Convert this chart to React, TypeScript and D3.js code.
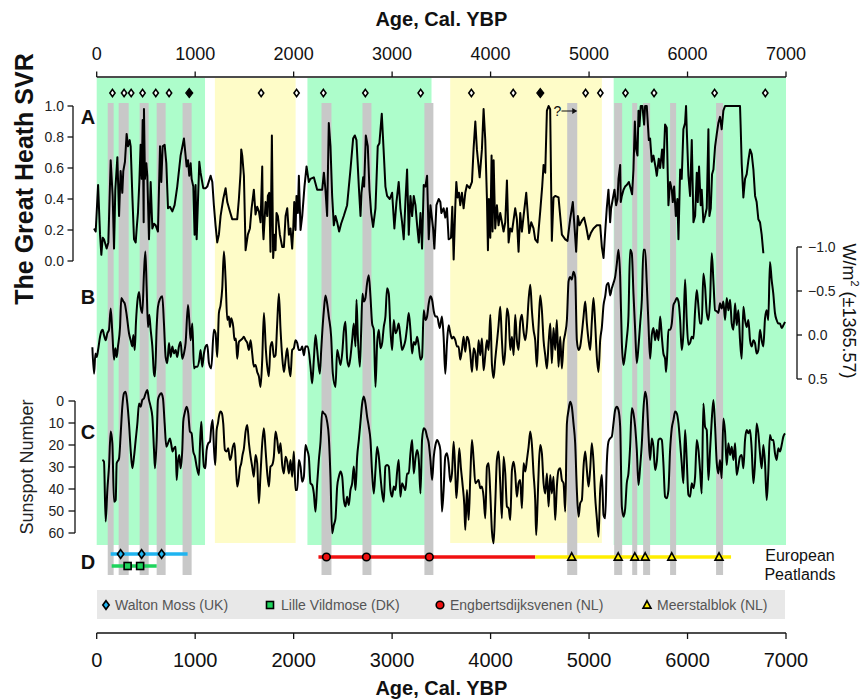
import React from 'react';
import * as d3 from 'd3';

// Climate periods (cal. yr BP)
const greenPeriods: [number, number][] = [[0, 1100], [2140, 3400], [5250, 7000]];
const yellowPeriods: [number, number][] = [[1200, 2020], [3590, 5130]];

// Grey event bars
const grayEvents: [number, number][] = [
  [112, 172], [223, 325], [436, 528], [609, 700], [872, 964],
  [2283, 2384], [2699, 2790], [3328, 3419], [4778, 4880],
  [5255, 5336], [5438, 5489], [5549, 5620], [5823, 5884], [6290, 6361],
];

// Dated levels above record A
const openDates = [160, 278, 350, 466, 600, 735, 1670, 2030, 2302, 2728, 3290, 3805, 4230, 4965, 5115, 5370, 5660, 6275, 6790];
const solidDates = [940, 4505];

// European peatlands (D)
const waltonRange = [142, 923];
const waltonDates = [243, 456, 659];
const lilleRange = [152, 609];
const lilleDates = [314, 441];
const engbertsRange = [2252, 4454];
const engbertsDates = [2333, 2739, 3378];
const meerstalRange = [4454, 6442];
const meerstalDates = [4824, 5296, 5465, 5570, 5840, 6320];

// A: The Great Heath SVR
const svrSeries: [number, number][] = [
  [-27, 0.21], [-10, 0.19], [14, 0.49], [34, 0.17], [47, 0.04], [61, 0.15], [74, 0.14], [101, 0.08], [118, 0.12],
  [142, 0.65], [162, 0.42], [176, 0.08], [189, 0.46], [210, 0.67], [227, 0.29], [243, 0.58], [260, 0.44], [270, 0.58],
  [287, 0.64], [304, 0.82], [318, 0.74], [335, 0.78], [345, 0.74], [362, 0.42], [379, 0.14], [396, 0.12], [406, 0.21],
  [419, 0.31], [433, 0.51], [446, 0.75], [457, 0.53], [467, 0.91], [477, 0.25], [480, 0.98], [490, 0.53], [504, 0.63],
  [514, 0.55], [531, 0.14], [548, 0.51], [565, 0.21], [582, 0.24], [599, 0.23], [622, 0.19], [643, 0.74], [656, 0.51],
  [670, 0.74], [690, 0.75], [707, 0.63], [724, 0.34], [744, 0.35], [768, 0.32], [791, 0.36], [818, 0.48], [852, 0.68],
  [886, 0.79], [913, 0.61], [927, 0.65], [940, 0.55], [954, 0.63], [964, 0.53], [981, 0.48], [994, 0.17], [1004, 0.49],
  [1015, 0.14], [1028, 0.38], [1042, 0.64], [1055, 0.57], [1082, 0.47], [1106, 0.47], [1123, 0.48], [1157, 0.55],
  [1174, 0.51], [1190, 0.36], [1207, 0.23], [1224, 0.12], [1241, 0.17], [1258, 0.29], [1285, 0.40], [1309, 0.47],
  [1326, 0.38], [1353, 0.32], [1376, 0.27], [1400, 0.27], [1427, 0.27], [1444, 0.40], [1461, 0.57], [1468, 0.72],
  [1478, 0.68], [1495, 0.55], [1512, 0.07], [1535, 0.17], [1556, 0.21], [1573, 0.34], [1596, 0.46], [1613, 0.30],
  [1630, 0.35], [1647, 0.32], [1664, 0.25], [1681, 0.61], [1688, 0.21], [1694, 0.14], [1715, 0.38], [1732, 0.29],
  [1738, 0.42], [1752, 0.44], [1765, 0.06], [1779, 0.81], [1792, 0.02], [1806, 0.17], [1816, 0.07], [1826, 0.31],
  [1840, 0.29], [1860, 0.17], [1884, 0.09], [1901, 0.09], [1918, 0.29], [1935, 0.34], [1952, 0.17], [1968, 0.21],
  [1985, 0.08], [1996, 0.21], [2006, 0.38], [2019, 0.20], [2029, 0.42], [2043, 0.31], [2053, 0.55], [2070, 0.20],
  [2087, 0.29], [2110, 0.48], [2131, 0.61], [2154, 0.51], [2171, 0.53], [2205, 0.54], [2239, 0.46], [2266, 0.46],
  [2290, 0.46], [2307, 0.57], [2323, 0.46], [2340, 0.29], [2357, 0.89], [2374, 0.74], [2391, 0.42], [2408, 0.23],
  [2425, 0.29], [2442, 0.25], [2462, 0.19], [2482, 0.24], [2509, 0.29], [2543, 0.36], [2577, 0.59], [2604, 0.79],
  [2621, 0.81], [2638, 0.78], [2662, 0.48], [2679, 0.29], [2689, 0.44], [2706, 0.54], [2716, 0.48], [2733, 0.81],
  [2753, 0.74], [2770, 0.46], [2787, 0.31], [2807, 0.22], [2831, 0.34], [2854, 0.74], [2871, 0.76], [2895, 0.95],
  [2915, 0.70], [2932, 0.48], [2949, 0.42], [2976, 0.40], [3000, 0.44], [3023, 0.21], [3044, 0.38], [3067, 0.51],
  [3084, 0.34], [3101, 0.25], [3118, 0.14], [3135, 0.38], [3152, 0.59], [3169, 0.17], [3186, 0.42], [3203, 0.29],
  [3220, 0.42], [3237, 0.36], [3254, 0.23], [3271, 0.12], [3288, 0.31], [3304, 0.08], [3321, 0.49], [3338, 0.48],
  [3355, 0.55], [3372, 0.14], [3389, 0.36], [3416, 0.21], [3429, 0.08], [3450, 0.36], [3473, 0.40], [3490, 0.38],
  [3500, 0.31], [3523, 0.34], [3540, 0.28], [3557, 0.34], [3574, 0.14], [3598, 0.15], [3611, 0.35], [3625, 0.01],
  [3642, 0.36], [3652, 0.51], [3665, 0.41], [3679, 0.44], [3692, 0.36], [3709, 0.44], [3726, 0.34], [3743, 0.44],
  [3760, 0.49], [3787, 0.47], [3811, 0.51], [3828, 0.73], [3845, 0.90], [3861, 0.72], [3889, 0.54], [3912, 0.72],
  [3929, 0.98], [3946, 0.78], [3963, 0.40], [3973, 0.07], [3983, 0.40], [3997, 0.15], [4010, 0.68], [4020, 0.19],
  [4031, 0.65], [4047, 0.21], [4064, 0.36], [4081, 0.23], [4098, 0.31], [4115, 0.25], [4132, 0.19], [4149, 0.25],
  [4166, 0.52], [4183, 0.12], [4200, 0.21], [4217, 0.19], [4250, 0.34], [4267, 0.27], [4284, 0.06], [4301, 0.31],
  [4318, 0.19], [4335, 0.29], [4362, 0.44], [4379, 0.29], [4392, 0.18], [4413, 0.25], [4436, 0.21], [4453, 0.14],
  [4477, 0.12], [4504, 0.32], [4524, 0.48], [4538, 0.62], [4555, 0.57], [4572, 0.97], [4589, 1.0], [4605, 0.98],
  [4622, 0.13], [4639, 0.41], [4656, 0.42], [4690, 0.41], [4707, 0.29], [4724, 0.17], [4758, 0.14], [4781, 0.13],
  [4808, 0.27], [4835, 0.38], [4849, 0.25], [4869, 0.06], [4886, 0.29], [4903, 0.23], [4927, 0.26], [4950, 0.28],
  [4971, 0.22], [4994, 0.14], [5018, 0.18], [5045, 0.21], [5079, 0.23], [5113, 0.23], [5130, 0.09], [5147, 0.02],
  [5164, 0.19], [5180, 0.34], [5197, 0.46], [5214, 0.25], [5224, 0.34], [5241, 0.40], [5258, 0.46], [5275, 0.36],
  [5289, 0.40], [5299, 0.53], [5316, 0.62], [5322, 0.38], [5333, 0.42], [5350, 0.46], [5366, 0.48], [5383, 0.49],
  [5404, 0.51], [5417, 0.48], [5437, 0.43], [5451, 0.59], [5465, 0.90], [5478, 0.72], [5492, 0.68], [5502, 0.97],
  [5512, 0.87], [5525, 1.0], [5542, 1.0], [5559, 0.88], [5569, 1.0], [5586, 1.0], [5607, 0.78], [5620, 0.79],
  [5637, 0.64], [5654, 0.68], [5674, 0.61], [5688, 0.55], [5708, 0.66], [5722, 0.60], [5742, 0.72], [5755, 0.60],
  [5772, 0.88], [5789, 0.86], [5806, 0.36], [5823, 0.51], [5840, 0.46], [5850, 0.38], [5864, 0.48], [5881, 0.29],
  [5897, 0.40], [5908, 0.14], [5925, 0.59], [5941, 0.53], [5958, 0.85], [5975, 0.89], [5985, 1.0], [5992, 0.85],
  [6009, 0.55], [6026, 0.42], [6043, 0.78], [6060, 0.25], [6077, 0.29], [6094, 0.57], [6104, 0.38], [6117, 0.61],
  [6134, 0.36], [6144, 0.46], [6161, 0.25], [6178, 0.29], [6195, 0.34], [6212, 0.85], [6222, 0.29], [6236, 0.34],
  [6249, 0.56], [6263, 0.59], [6280, 0.74], [6297, 0.82], [6313, 0.89], [6330, 0.93], [6347, 0.85], [6364, 0.97],
  [6381, 1.0], [6533, 1.0], [6540, 0.86], [6550, 0.63], [6567, 0.41], [6584, 0.53], [6601, 0.56], [6618, 0.65],
  [6635, 0.72], [6652, 0.69], [6669, 0.59], [6686, 0.42], [6702, 0.38], [6719, 0.27], [6736, 0.25], [6753, 0.17],
  [6770, 0.05],
];

// B: total solar irradiance anomaly, W/m2 (±1365.57)
const tsiSeries: [number, number][] = [
  [-44, 0.14], [-27, 0.44], [-13, 0.21], [0, 0.25], [14, 0.17], [34, 0.02], [47, -0.04], [61, -0.06], [74, 0.0],
  [91, 0.06], [108, -0.02], [125, -0.06], [142, -0.30], [159, -0.02], [176, 0.28], [189, 0.15], [203, 0.25],
  [216, 0.13], [237, -0.09], [250, -0.42], [271, -0.38], [284, -0.36], [304, -0.23], [328, -0.02], [345, 0.06],
  [362, 0.13], [372, 0.0], [386, 0.17], [399, -0.15], [413, -0.38], [430, -0.49], [446, -0.32], [463, -0.25],
  [480, -0.70], [494, -0.95], [507, -0.55], [521, -0.09], [534, -0.23], [548, -0.06], [565, 0.13], [582, 0.44],
  [592, 0.47], [609, -0.09], [622, -0.32], [643, -0.41], [666, -0.44], [683, -0.13], [700, 0.25], [717, 0.32],
  [734, 0.09], [751, 0.25], [768, 0.13], [785, 0.21], [802, 0.17], [818, 0.25], [835, 0.13], [852, 0.08], [869, 0.27],
  [886, 0.21], [903, 0.09], [927, -0.34], [940, -0.17], [954, 0.06], [971, -0.13], [988, 0.38], [1004, 0.36],
  [1021, 0.36], [1042, 0.28], [1055, 0.17], [1072, 0.36], [1089, 0.21], [1106, 0.13], [1123, 0.11], [1140, 0.32],
  [1163, 0.38], [1190, -0.06], [1207, -0.02], [1224, 0.25], [1241, -0.25], [1258, -0.34], [1275, -0.53], [1292, -0.95],
  [1309, -0.63], [1326, -0.17], [1343, -0.21], [1353, -0.09], [1366, -0.19], [1387, -0.09], [1400, 0.06], [1414, 0.04],
  [1427, 0.27], [1444, 0.08], [1461, 0.06], [1481, 0.04], [1495, 0.02], [1512, 0.06], [1529, 0.09], [1546, 0.17],
  [1563, 0.06], [1579, 0.21], [1596, 0.36], [1613, 0.34], [1630, 0.42], [1647, 0.47], [1664, 0.59], [1681, 0.28],
  [1698, -0.25], [1718, 0.17], [1732, 0.36], [1748, 0.47], [1765, 0.13], [1782, 0.08], [1799, 0.25], [1816, 0.23],
  [1833, -0.13], [1850, -0.47], [1867, -0.06], [1884, 0.25], [1901, 0.42], [1918, 0.28], [1935, 0.15], [1952, 0.36],
  [1968, 0.47], [1985, 0.17], [2002, 0.15], [2019, 0.06], [2036, 0.09], [2053, 0.17], [2070, 0.17], [2087, 0.13],
  [2104, 0.23], [2120, 0.13], [2144, 0.13], [2171, 0.36], [2188, 0.55], [2205, 0.28], [2222, 0.0], [2239, 0.17],
  [2266, 0.44], [2280, 0.17], [2290, -0.02], [2307, -0.28], [2323, -0.45], [2340, -0.36], [2357, -0.21], [2381, 0.02],
  [2398, 0.44], [2425, 0.59], [2442, 0.17], [2459, 0.25], [2476, 0.34], [2496, 0.17], [2509, -0.04], [2526, -0.15],
  [2543, 0.27], [2560, 0.36], [2577, 0.25], [2594, 0.06], [2611, -0.13], [2628, 0.13], [2638, -0.40], [2652, 0.02],
  [2672, 0.36], [2685, -0.02], [2699, -0.47], [2712, -0.38], [2729, -0.42], [2746, -0.59], [2763, -0.68], [2780, -0.44],
  [2797, -0.13], [2814, -0.06], [2831, 0.59], [2848, 0.09], [2865, -0.06], [2882, 0.15], [2899, 0.09], [2915, -0.09],
  [2932, -0.21], [2949, -0.53], [2966, -0.47], [2983, -0.06], [3000, 0.17], [3017, -0.17], [3034, -0.02], [3051, -0.06],
  [3067, -0.13], [3084, 0.02], [3101, 0.17], [3118, 0.13], [3135, 0.06], [3152, -0.09], [3169, -0.25], [3186, -0.06],
  [3203, 0.21], [3220, 0.08], [3237, 0.11], [3254, 0.02], [3271, 0.13], [3288, 0.28], [3304, 0.25], [3321, -0.28],
  [3338, -0.17], [3355, -0.21], [3372, -0.36], [3389, -0.44], [3406, -0.40], [3423, -0.27], [3440, -0.21], [3457, -0.21],
  [3484, -0.08], [3506, -0.21], [3523, 0.02], [3540, 0.44], [3557, 0.09], [3574, -0.11], [3591, -0.02], [3608, 0.04],
  [3625, 0.02], [3642, 0.06], [3659, 0.13], [3675, 0.13], [3692, 0.28], [3709, 0.17], [3726, 0.02], [3743, 0.19],
  [3760, 0.02], [3777, 0.06], [3794, 0.21], [3811, 0.42], [3828, 0.15], [3845, 0.21], [3861, 0.40], [3878, 0.06],
  [3895, 0.23], [3912, 0.04], [3929, 0.40], [3946, 0.23], [3963, 0.06], [3980, 0.17], [3997, -0.23], [4014, 0.34],
  [4031, 0.49], [4047, 0.28], [4064, 0.09], [4081, -0.11], [4098, -0.32], [4115, 0.06], [4132, 0.34], [4149, 0.17],
  [4166, -0.30], [4183, -0.21], [4200, 0.17], [4217, 0.02], [4234, 0.23], [4250, -0.23], [4267, 0.06], [4284, 0.17],
  [4301, -0.15], [4318, -0.23], [4335, -0.04], [4352, 0.06], [4369, -0.09], [4386, -0.40], [4403, -0.57], [4420, -0.27],
  [4436, -0.06], [4453, 0.06], [4470, 0.36], [4487, -0.09], [4504, -0.45], [4521, -0.28], [4538, 0.06], [4555, 0.23],
  [4572, 0.38], [4589, 0.09], [4606, -0.13], [4622, 0.32], [4639, -0.08], [4656, 0.17], [4673, -0.17], [4690, 0.36],
  [4707, 0.02], [4724, 0.38], [4741, 0.09], [4758, -0.02], [4775, -0.17], [4792, -0.61], [4808, -0.66], [4825, -0.63],
  [4842, -0.72], [4859, -0.66], [4876, 0.06], [4893, 0.17], [4910, 0.13], [4927, -0.02], [4944, -0.21], [4961, -0.38],
  [4978, -0.13], [4995, 0.06], [5011, 0.17], [5028, -0.15], [5045, -0.42], [5062, -0.13], [5079, 0.25], [5096, 0.42],
  [5113, 0.06], [5130, -0.09], [5147, -0.34], [5164, -0.44], [5180, -0.57], [5197, -0.59], [5214, -0.45], [5231, -0.53],
  [5248, -0.59], [5265, -0.66], [5282, -0.81], [5299, -0.97], [5316, -0.66], [5333, 0.09], [5350, 0.34], [5367, 0.21],
  [5383, 0.04], [5400, -0.21], [5417, -0.97], [5434, -0.93], [5451, -0.47], [5468, -0.06], [5485, 0.32], [5502, 0.13],
  [5519, -0.13], [5536, -0.40], [5552, -0.97], [5569, -0.97], [5586, -0.59], [5603, -0.13], [5620, 0.27], [5637, 0.0],
  [5654, -0.08], [5671, 0.06], [5688, -0.06], [5705, 0.06], [5722, -0.21], [5739, 0.02], [5755, 0.21], [5772, 0.27],
  [5782, 0.42], [5796, 0.17], [5806, -0.06], [5823, -0.06], [5840, -0.13], [5857, -0.34], [5874, -0.38], [5891, -0.42],
  [5908, -0.38], [5925, -0.17], [5941, 0.17], [5958, -0.02], [5975, -0.63], [5992, -0.17], [6009, 0.11], [6026, 0.09],
  [6043, 0.02], [6060, 0.04], [6077, -0.28], [6094, -0.51], [6111, -0.32], [6127, -0.13], [6144, -0.13], [6161, -0.70],
  [6178, -0.55], [6195, -0.25], [6212, -0.17], [6229, -0.40], [6246, -0.93], [6263, -0.61], [6280, -0.28], [6297, -0.27],
  [6313, -0.25], [6330, -0.36], [6347, -0.30], [6364, -0.38], [6381, -0.17], [6398, -0.42], [6415, -0.28], [6432, -0.40],
  [6449, -0.13], [6466, -0.06], [6483, -0.36], [6499, -0.11], [6516, -0.28], [6533, 0.06], [6550, 0.27], [6567, -0.32],
  [6584, -0.17], [6601, -0.09], [6618, -0.17], [6635, 0.06], [6652, 0.13], [6669, 0.06], [6685, 0.09], [6702, 0.21],
  [6719, 0.17], [6736, -0.06], [6753, 0.06], [6770, 0.13], [6787, -0.19], [6804, -0.28], [6820, -0.17], [6837, -0.83],
  [6854, -0.63], [6871, -0.47], [6888, -0.25], [6905, -0.17], [6922, -0.13], [6939, -0.13], [6956, -0.08], [6973, -0.11],
  [6990, -0.15],
];

// C: reconstructed sunspot number
const sunspotSeries: [number, number][] = [
  [58, 26.8], [74, 27.6], [91, 54.8], [108, 40.5], [125, 29.8], [142, 13.9], [159, 19.2], [176, 45.8], [193, 45.0],
  [203, 28.3], [227, 26.1], [244, 14.7], [260, 2.6], [277, -3.5], [294, -4.2], [311, 1.1], [328, 10.2], [345, 22.3],
  [362, 30.6], [379, 25.3], [396, 17.7], [413, 10.2], [430, 1.1], [446, 2.6], [463, -0.5], [480, -1.2], [497, -3.5],
  [514, -5.0], [531, -0.5], [548, 2.6], [565, 7.1], [582, 22.3], [592, 30.6], [609, 17.7], [622, -0.5], [639, -2.7],
  [656, -3.5], [673, -1.2], [690, 10.2], [707, 20.8], [724, 19.2], [744, 17.0], [758, 20.0], [771, 23.0], [785, 21.5],
  [802, 20.8], [812, 35.9], [825, 27.6], [839, 24.5], [852, 30.6], [869, 22.3], [879, 9.4], [893, 5.6], [913, 2.6],
  [930, 5.6], [947, 13.9], [964, 14.7], [981, 23.0], [998, 25.3], [1015, 29.8], [1038, 33.6], [1048, 20.8], [1062, 9.4],
  [1072, 17.7], [1089, 29.8], [1103, 30.6], [1116, 22.3], [1133, 19.2], [1150, 18.5], [1164, 11.7], [1177, 8.6],
  [1191, 21.5], [1204, 29.1], [1218, 13.2], [1231, 10.2], [1241, 7.1], [1258, 4.8], [1272, 5.6], [1285, 10.2],
  [1302, 22.3], [1319, 23.0], [1336, 21.5], [1353, 26.8], [1366, 25.3], [1383, 20.8], [1400, 19.2], [1414, 29.8],
  [1427, 38.9], [1441, 35.9], [1454, 30.6], [1468, 28.3], [1481, 24.5], [1495, 21.5], [1512, 13.9], [1529, 10.9],
  [1546, 19.2], [1563, 25.3], [1579, 29.8], [1596, 34.4], [1613, 24.5], [1630, 28.3], [1647, 46.5], [1664, 32.9],
  [1681, 19.2], [1698, 12.4], [1715, 22.3], [1732, 32.9], [1749, 38.9], [1765, 29.8], [1782, 29.1], [1799, 25.3],
  [1816, 13.9], [1833, 17.7], [1850, 23.8], [1867, 19.2], [1884, 29.1], [1901, 32.9], [1918, 25.3], [1935, 27.6],
  [1952, 32.9], [1968, 26.8], [1985, 34.4], [2002, 23.0], [2019, 40.5], [2036, 40.5], [2053, 26.8], [2070, 29.8],
  [2087, 36.7], [2104, 34.4], [2120, 20.0], [2137, 22.3], [2154, 25.3], [2171, 37.4], [2188, 38.2], [2205, 42.0],
  [2222, 50.3], [2239, 37.4], [2256, 26.8], [2273, 18.5], [2290, 4.8], [2307, 5.6], [2324, 6.4], [2340, 9.4],
  [2357, 16.2], [2374, 34.4], [2391, 60.1], [2408, 56.4], [2425, 53.3], [2442, 38.9], [2459, 34.4], [2476, 32.1],
  [2493, 34.4], [2510, 45.0], [2526, 48.0], [2543, 43.5], [2560, 47.3], [2577, 40.5], [2594, 37.4], [2611, 29.8],
  [2628, 40.5], [2645, 25.3], [2662, 17.7], [2679, 9.4], [2696, 1.1], [2712, -2.0], [2729, 1.1], [2746, 7.1],
  [2763, 11.7], [2780, 17.7], [2797, 32.9], [2814, 42.0], [2831, 31.4], [2848, 20.8], [2865, 25.3], [2882, 34.4],
  [2899, 42.0], [2915, 45.8], [2932, 29.8], [2949, 29.1], [2966, 29.8], [2983, 40.5], [3000, 43.5], [3017, 38.9],
  [3034, 40.5], [3051, 32.1], [3067, 26.8], [3084, 43.5], [3101, 37.4], [3118, 38.9], [3135, 40.5], [3152, 32.9],
  [3169, 32.9], [3186, 23.8], [3203, 17.7], [3220, 32.9], [3237, 26.1], [3254, 22.3], [3271, 26.8], [3288, 42.0],
  [3304, 17.7], [3321, 12.4], [3338, 13.2], [3355, 16.2], [3372, 19.2], [3389, 26.8], [3406, 35.9], [3423, 25.3],
  [3440, 20.0], [3457, 17.7], [3474, 19.2], [3490, 22.3], [3506, 50.3], [3523, 40.5], [3540, 25.3], [3557, 23.8],
  [3574, 28.3], [3591, 36.7], [3608, 32.9], [3625, 18.5], [3642, 32.9], [3652, 44.2], [3665, 36.7], [3682, 21.5],
  [3699, 30.6], [3716, 38.2], [3733, 47.3], [3743, 58.6], [3760, 40.5], [3777, 54.1], [3794, 34.4], [3811, 17.7],
  [3828, 26.8], [3845, 37.4], [3861, 36.7], [3878, 35.9], [3895, 39.7], [3912, 38.9], [3929, 43.5], [3946, 53.3],
  [3963, 29.8], [3980, 28.3], [3997, 42.0], [4014, 59.4], [4031, 64.7], [4047, 47.3], [4064, 26.8], [4081, 23.0],
  [4098, 37.4], [4115, 53.3], [4132, 25.3], [4149, 32.9], [4166, 48.0], [4183, 48.8], [4200, 54.1], [4217, 31.4],
  [4234, 27.6], [4250, 32.9], [4267, 43.5], [4284, 37.4], [4301, 35.9], [4318, 48.8], [4335, 28.3], [4352, 32.1],
  [4369, 26.8], [4386, 20.8], [4403, 13.9], [4420, 20.0], [4436, 32.9], [4453, 45.0], [4463, 60.9], [4477, 46.5],
  [4491, 28.3], [4504, 20.0], [4521, 23.8], [4538, 37.4], [4555, 42.0], [4572, 32.9], [4589, 48.0], [4606, 33.6],
  [4622, 42.0], [4639, 34.4], [4656, 54.1], [4673, 38.9], [4690, 31.4], [4707, 30.6], [4724, 35.9], [4741, 37.4],
  [4758, 50.3], [4775, 10.2], [4792, 4.1], [4808, 0.3], [4825, 2.6], [4842, 10.2], [4859, 19.2], [4876, 40.5],
  [4893, 52.6], [4910, 46.5], [4927, 45.0], [4944, 29.8], [4961, 23.0], [4978, 31.4], [4995, 38.9], [5011, 31.4],
  [5028, 19.2], [5045, 27.6], [5062, 43.5], [5079, 53.3], [5096, 61.7], [5113, 40.5], [5130, 33.6], [5147, 51.8],
  [5164, 53.3], [5180, 28.3], [5197, 18.5], [5214, 17.0], [5231, 16.2], [5248, 10.2], [5265, 4.1], [5282, 2.6],
  [5299, 4.1], [5316, 11.7], [5333, 48.0], [5350, 52.6], [5367, 48.8], [5383, 37.4], [5400, 32.9], [5417, 20.8],
  [5434, 3.3], [5451, 5.6], [5468, 11.7], [5485, 22.3], [5502, 38.2], [5519, 29.8], [5536, 19.2], [5552, 4.1],
  [5569, -4.2], [5586, -0.5], [5603, 14.7], [5620, 26.8], [5637, 17.0], [5654, 20.8], [5671, 31.4], [5688, 27.6],
  [5705, 17.7], [5722, 17.0], [5739, 17.7], [5755, 28.3], [5772, 43.5], [5789, 44.2], [5806, 40.5], [5823, 22.3],
  [5840, 12.4], [5857, 8.6], [5874, 4.8], [5891, 5.6], [5908, 10.2], [5925, 19.2], [5941, 28.3], [5958, 37.4],
  [5975, 13.2], [5992, 26.8], [6009, 42.7], [6026, 43.5], [6043, 37.4], [6060, 39.7], [6077, 34.4], [6094, 17.7],
  [6111, 22.3], [6127, 31.4], [6144, 42.0], [6161, 1.1], [6178, 11.7], [6195, 13.2], [6212, 35.9], [6229, 22.3],
  [6246, 8.6], [6263, -0.5], [6280, 11.7], [6297, 28.3], [6313, 32.9], [6330, 26.8], [6347, 35.1], [6364, 7.9],
  [6381, 13.9], [6398, 29.1], [6415, 19.2], [6432, 24.5], [6449, 20.8], [6466, 26.8], [6483, 19.2], [6499, 33.6],
  [6516, 29.8], [6533, 25.3], [6550, 24.5], [6567, 30.6], [6584, 17.7], [6601, 13.2], [6618, 14.7], [6635, 13.2],
  [6652, 22.3], [6669, 37.4], [6685, 28.3], [6702, 10.2], [6719, 14.7], [6736, 23.8], [6753, 30.6], [6770, 20.0],
  [6787, 28.3], [6804, 45.0], [6820, 32.9], [6837, 15.5], [6854, 17.7], [6871, 17.7], [6888, 23.8], [6905, 26.8],
  [6922, 21.5], [6939, 23.0], [6956, 20.0], [6973, 16.2], [6990, 14.7],
];

const svrTicks = [0, 0.2, 0.4, 0.6, 0.8, 1.0];
const tsiTicks = [-1.0, -0.5, 0.0, 0.5];
const sunspotTicks = [0, 10, 20, 30, 40, 50, 60];

const FONT = '"Liberation Sans", Arial, Helvetica, sans-serif';
const W = 865;
const H = 700;

const diamond = (hw: number, hh: number) => `M0,${-hh}L${hw},0L0,${hh}L${-hw},0Z`;
const triangle = (s: number) => `M0,${-s}L${s * 0.95},${s * 0.75}L${-s * 0.95},${s * 0.75}Z`;

export default function App() {
  const x = d3.scaleLinear().domain([0, 7000]).range([96.7, 786]);
  const yA = d3.scaleLinear().domain([0, 1]).range([261, 106]);
  const yB = d3.scaleLinear().domain([-1, 0.5]).range([247, 379]);
  const yC = d3.scaleLinear().domain([0, 60]).range([401, 533]);

  const lineA = d3.line<[number, number]>().x(d => x(d[0])).y(d => yA(d[1]));
  const lineB = d3.line<[number, number]>().x(d => x(d[0])).y(d => yB(d[1])).curve(d3.curveMonotoneX);
  const lineC = d3.line<[number, number]>().x(d => x(d[0])).y(d => yC(d[1])).curve(d3.curveMonotoneX);

  const ageTicks = x.ticks(7);
  const bandTop = 78;
  const bandBottom = 544;

  const rowY = { walton: 554, lille: 566, engberts: 557, meerstal: 557 };

  return (
    <svg width={W} height={H} style={{ position: 'absolute', left: 0, top: 0, background: '#fff' }} fontFamily={FONT}>
      {/* climate periods */}
      {greenPeriods.map((p, i) => (
        <rect key={'g' + i} x={x(p[0])} y={bandTop} width={x(p[1]) - x(p[0])} height={bandBottom - bandTop + 1} fill="#adfdcb" />
      ))}
      {yellowPeriods.map((p, i) => (
        <rect key={'y' + i} x={x(p[0])} y={bandTop} width={x(p[1]) - x(p[0])} height={bandBottom - bandTop - 1} fill="#fefcc8" />
      ))}
      {/* grey events */}
      {grayEvents.map((p, i) => (
        <rect key={'e' + i} x={x(p[0])} y={103} width={x(p[1]) - x(p[0])} height={472} fill="#c8c8c8" />
      ))}

      {/* top axis */}
      <text x={(x(0) + x(7000)) / 2} y={19} textAnchor="middle" dominantBaseline="central" fontSize={20} fontWeight="bold" fill="#111">Age, Cal. YBP</text>
      <line x1={x(0)} x2={x(7000)} y1={77} y2={77} stroke="#111" strokeWidth={1.5} />
      {ageTicks.map(t => (
        <g key={'tt' + t}>
          <line x1={x(t)} x2={x(t)} y1={71.5} y2={77} stroke="#111" strokeWidth={1.3} />
          <text x={x(t)} y={54} textAnchor="middle" dominantBaseline="central" fontSize={18} fill="#111">{t}</text>
        </g>
      ))}

      {/* dated levels */}
      {openDates.map((d, i) => (
        <path key={'od' + i} d={diamond(2.6, 3.6)} transform={`translate(${x(d)},93)`} fill="#fff" stroke="#000" strokeWidth={1.6} />
      ))}
      {solidDates.map((d, i) => (
        <path key={'sd' + i} d={diamond(3.5, 4.5)} transform={`translate(${x(d)},93)`} fill="#000" stroke="#000" strokeWidth={1.2} />
      ))}

      {/* A axis */}
      <text transform="translate(24,179) rotate(-90)" textAnchor="middle" dominantBaseline="central" fontSize={25} fontWeight="bold" fill="#111">The Great Heath SVR</text>
      <line x1={73} x2={73} y1={yA(1)} y2={yA(0)} stroke="#111" strokeWidth={1.3} />
      {svrTicks.map(t => (
        <g key={'ta' + t}>
          <line x1={67.5} x2={73} y1={yA(t)} y2={yA(t)} stroke="#111" strokeWidth={1.3} />
          <text x={64} y={yA(t)} textAnchor="end" dominantBaseline="central" fontSize={14} fill="#222">{d3.format('.1f')(t)}</text>
        </g>
      ))}

      {/* B axis */}
      <line x1={797} x2={797} y1={yB(-1)} y2={yB(0.5)} stroke="#111" strokeWidth={1.3} />
      {tsiTicks.map(t => (
        <g key={'tb' + t}>
          <line x1={797} x2={802} y1={yB(t)} y2={yB(t)} stroke="#111" strokeWidth={1.3} />
          <text x={808} y={yB(t)} textAnchor="start" dominantBaseline="central" fontSize={14} fill="#222">{d3.format('.1f')(t)}</text>
        </g>
      ))}
      <text transform="translate(849,311) rotate(90)" textAnchor="middle" dominantBaseline="central" fontSize={18} fill="#111">
        W/m<tspan fontSize={11} dy={-6}>2</tspan><tspan dy={6}> (±1365.57)</tspan>
      </text>

      {/* C axis */}
      <text transform="translate(27,467) rotate(-90)" textAnchor="middle" dominantBaseline="central" fontSize={18} fill="#222">Sunspot Number</text>
      <line x1={75} x2={75} y1={yC(0)} y2={yC(60)} stroke="#111" strokeWidth={1.3} />
      {sunspotTicks.map(t => (
        <g key={'tc' + t}>
          <line x1={68.5} x2={75} y1={yC(t)} y2={yC(t)} stroke="#111" strokeWidth={1.3} />
          <text x={64} y={yC(t)} textAnchor="end" dominantBaseline="central" fontSize={14} fill="#222">{t}</text>
        </g>
      ))}

      {/* records */}
      <path d={lineA(svrSeries) || ''} fill="none" stroke="#000" strokeWidth={2} strokeLinejoin="round" />
      <path d={lineB(tsiSeries) || ''} fill="none" stroke="#000" strokeWidth={2} strokeLinejoin="round" />
      <path d={lineC(sunspotSeries) || ''} fill="none" stroke="#000" strokeWidth={2} strokeLinejoin="round" />

      {/* ? annotation */}
      <text x={x(4640)} y={111} textAnchor="start" dominantBaseline="central" fontSize={14} fill="#111">?</text>
      <line x1={x(4720)} x2={x(4870)} y1={111} y2={111} stroke="#111" strokeWidth={1} />
      <path d={`M${x(4870) + 1},111l-5,-3v6z`} fill="#111" />

      {/* panel letters */}
      {[['A', 117], ['B', 297], ['C', 432], ['D', 562]].map(([l, yy]) => (
        <text key={l as string} x={88} y={yy as number} textAnchor="middle" dominantBaseline="central" fontSize={20} fontWeight="bold" fill="#111">{l}</text>
      ))}

      {/* D: peatlands */}
      <line x1={x(waltonRange[0])} x2={x(waltonRange[1])} y1={rowY.walton} y2={rowY.walton} stroke="#1fb4f0" strokeWidth={3.5} />
      <line x1={x(lilleRange[0])} x2={x(lilleRange[1])} y1={rowY.lille} y2={rowY.lille} stroke="#1ed45c" strokeWidth={3.5} />
      <line x1={x(engbertsRange[0])} x2={x(engbertsRange[1])} y1={rowY.engberts} y2={rowY.engberts} stroke="#f01010" strokeWidth={3.5} />
      <line x1={x(meerstalRange[0])} x2={x(meerstalRange[1])} y1={rowY.meerstal} y2={rowY.meerstal} stroke="#ffee00" strokeWidth={3.5} />
      {waltonDates.map((d, i) => (
        <path key={'wd' + i} d={diamond(3.2, 4.3)} transform={`translate(${x(d)},${rowY.walton})`} fill="#1fb4f0" stroke="#000" strokeWidth={1.6} />
      ))}
      {lilleDates.map((d, i) => (
        <rect key={'ld' + i} x={x(d) - 3.5} y={rowY.lille - 3.5} width={7} height={7} fill="#1ed45c" stroke="#000" strokeWidth={1.6} />
      ))}
      {engbertsDates.map((d, i) => (
        <circle key={'ed' + i} cx={x(d)} cy={rowY.engberts} r={3.8} fill="#f01010" stroke="#000" strokeWidth={1.6} />
      ))}
      {meerstalDates.map((d, i) => (
        <path key={'md' + i} d={triangle(4.2)} transform={`translate(${x(d)},${rowY.meerstal})`} fill="#ffee00" stroke="#000" strokeWidth={1.6} />
      ))}
      <text x={800} y={555} textAnchor="middle" dominantBaseline="central" fontSize={16} fill="#111">European</text>
      <text x={800} y={574} textAnchor="middle" dominantBaseline="central" fontSize={16} fill="#111">Peatlands</text>

      {/* legend */}
      <rect x={97} y={590} width={688} height={29} fill="#e8e8e8" />
      <path d={diamond(3.2, 4.3)} transform="translate(106,605)" fill="#1fb4f0" stroke="#000" strokeWidth={1.6} />
      <text x={115} y={605} dominantBaseline="central" fontSize={14} fill="#555">Walton Moss (UK)</text>
      <rect x={266.5} y={601.5} width={7} height={7} fill="#1ed45c" stroke="#000" strokeWidth={1.6} />
      <text x={281} y={605} dominantBaseline="central" fontSize={14} fill="#555">Lille Vildmose (DK)</text>
      <circle cx={440} cy={605} r={3.8} fill="#f01010" stroke="#000" strokeWidth={1.6} />
      <text x={450} y={605} dominantBaseline="central" fontSize={14} fill="#555">Engbertsdijksvenen (NL)</text>
      <path d={triangle(4.2)} transform="translate(647,605)" fill="#ffee00" stroke="#000" strokeWidth={1.6} />
      <text x={657} y={605} dominantBaseline="central" fontSize={14} fill="#555">Meerstalblok (NL)</text>

      {/* bottom axis */}
      <line x1={x(0)} x2={x(7000)} y1={633} y2={633} stroke="#111" strokeWidth={1.5} />
      {ageTicks.map(t => (
        <g key={'bt' + t}>
          <line x1={x(t)} x2={x(t)} y1={633} y2={639} stroke="#111" strokeWidth={1.3} />
          <text x={x(t)} y={660} textAnchor="middle" dominantBaseline="central" fontSize={20} fill="#111">{t}</text>
        </g>
      ))}
      <text x={(x(0) + x(7000)) / 2} y={688} textAnchor="middle" dominantBaseline="central" fontSize={20} fontWeight="bold" fill="#111">Age, Cal. YBP</text>
    </svg>
  );
}
